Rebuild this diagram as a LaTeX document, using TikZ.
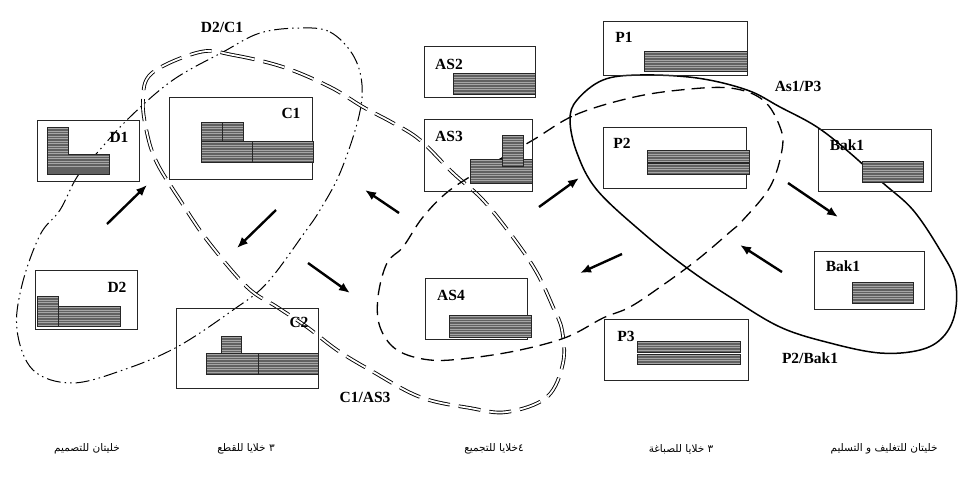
\documentclass[tikz,border=0pt]{standalone}
\usepackage{fontspec}
\setmainfont{Liberation Serif}
\newfontfamily\arabicfont[Script=Arabic]{DejaVu Sans}
\TeXXeTstate=1
\usetikzlibrary{arrows.meta}
\tikzset{
  box/.style={draw=black!85, line width=0.9pt, inner sep=0pt, outer sep=0pt},
  hatch/.style={draw=black!85, line width=0.7pt, fill=black!62,
    path picture={\foreach \i in {1.5,4,...,40}
      \draw[black!35, line width=0.5pt]
        ([yshift=-\i pt]path picture bounding box.north west) --
        ([yshift=-\i pt]path picture bounding box.north east);},
    inner sep=0pt, outer sep=0pt},
  lbl/.style={font=\fontsize{15.5}{16}\selectfont\bfseries, inner sep=0pt},
  arlbl/.style={font=\arabicfont\fontsize{10.5}{12}\selectfont, inner sep=0pt},
  flow/.style={line width=2.4pt, -{Latex[length=11pt,width=9pt]}},
  dashdotdot/.style={line width=1pt, dash pattern=on 14pt off 4pt on 1.5pt off 4pt on 1.5pt off 4pt},
  dbldash/.style={double=white, double distance=1.8pt, line width=0.9pt, dash pattern=on 22pt off 9pt},
  sgldash/.style={line width=1.3pt, dash pattern=on 13pt off 7pt},
  solidloop/.style={line width=1.5pt}
}
\newcommand\rectnode[6]{\node[#6, anchor=north west, minimum width=#4pt-#2pt, minimum height=#5pt-#3pt] (#1) at (#2,#3) {};}
\begin{document}
\begin{tikzpicture}[x=1pt,y=-1pt]
\useasboundingbox (0,0) rectangle (958,485);
% ---- cell group outlines
\draw[dashdotdot] plot[smooth cycle, tension=0.6] coordinates {
 (300,28) (330,32) (353,55) (362,85) (358,120) (340,173) (320,210) (305,232)
 (267,283) (233,310) (177,347) (123,370) (72,383) (33,370) (17,330) (22,285)
 (40,235) (60,210) (77,177) (97,153) (130,117) (173,80) (223,52) (260,33)};
\draw[dbldash] plot[smooth cycle, tension=0.6] coordinates {
 (200,52) (233,55) (283,67) (330,87) (363,107) (393,123) (420,140) (453,173)
 (483,200) (515,240) (537,273) (553,307) (562,330) (563,363) (547,397) (507,412)
 (470,408) (420,397) (370,370) (337,350) (307,327) (277,307) (247,287) (207,240)
 (180,200) (157,163) (147,133) (143,100) (152,73)};
\draw[sgldash] plot[smooth cycle, tension=0.6] coordinates {
 (533,140) (575,115) (630,98) (680,90) (730,88) (763,100) (780,127) (782,150)
 (770,187) (743,220) (730,232) (697,260) (663,285) (630,307) (603,318) (567,337)
 (520,350) (470,358) (430,360) (397,350) (380,327) (378,297) (387,263) (403,247)
 (423,217) (450,190) (490,165)};
\draw[solidloop] plot[smooth cycle, tension=0.6] coordinates {
 (640,75) (697,78) (747,90) (780,107) (817,127) (850,153) (883,183) (913,210)
 (940,250) (955,280) (955,313) (943,337) (920,350) (880,353) (830,343) (780,327)
 (730,297) (687,268) (643,233) (597,190) (577,153) (570,120) (577,100) (603,80)};
% ---- cell boxes
\rectnode{d1}{37}{120}{139}{181}{box}
\rectnode{c1}{169}{97}{312}{179}{box}
\rectnode{d2}{35}{270}{137}{329}{box}
\rectnode{c2}{176}{308}{318}{388}{box}
\rectnode{as2}{424}{46}{535}{97}{box}
\rectnode{as3}{424}{119}{532}{191}{box}
\rectnode{as4}{425}{278}{527}{339}{box}
\rectnode{p1}{603}{21}{747}{75}{box}
\rectnode{p2}{603}{127}{746}{188}{box}
\rectnode{p3}{604}{319}{748}{380}{box}
\rectnode{bak1a}{818}{129}{931}{191}{box}
\rectnode{bak1b}{814}{251}{924}{309}{box}
% ---- machines (hatched)
\path[hatch] (47,127) -| (68,154) -| (109,174) -| cycle;
\rectnode{c1a}{201}{122}{222}{141}{hatch}
\rectnode{c1b}{222}{122}{243}{141}{hatch}
\rectnode{c1c}{201}{141}{252}{162}{hatch}
\rectnode{c1d}{252}{141}{313}{162}{hatch}
\rectnode{d2a}{37}{296}{58}{326}{hatch}
\rectnode{d2b}{58}{306}{120}{326}{hatch}
\rectnode{c2a}{221}{336}{241}{353}{hatch}
\rectnode{c2b}{206}{353}{258}{374}{hatch}
\rectnode{c2c}{258}{353}{318}{374}{hatch}
\rectnode{as2a}{453}{73}{535}{94}{hatch}
\rectnode{as3b}{470}{159}{532}{183}{hatch}
\rectnode{as3a}{502}{135}{523}{166}{hatch}
\rectnode{as4a}{449}{315}{531}{337}{hatch}
\rectnode{p1a}{644}{51}{747}{71}{hatch}
\rectnode{p2a}{647}{150}{749}{162}{hatch}
\rectnode{p2b}{647}{163}{749}{174}{hatch}
\rectnode{p3a}{637}{341}{740}{352}{hatch}
\rectnode{p3b}{637}{354}{740}{364}{hatch}
\rectnode{bak1aa}{862}{161}{923}{182}{hatch}
\rectnode{bak1ba}{852}{282}{913}{303}{hatch}
% ---- labels
\node[lbl] (tD1) at (119,137) {D1};
\node[lbl] (tC1) at (291,113) {C1};
\node[lbl] (tD2) at (117,287) {D2};
\node[lbl] (tC2) at (299,322) {C2};
\node[lbl] (tAS2) at (449,64) {AS2};
\node[lbl] (tAS3) at (449,136) {AS3};
\node[lbl] (tAS4) at (451,295) {AS4};
\node[lbl] (tP1) at (624,37) {P1};
\node[lbl] (tP2) at (622,143) {P2};
\node[lbl] (tP3) at (626,336) {P3};
\node[lbl] (tBak1a) at (847,145) {Bak1};
\node[lbl] (tBak1b) at (843,266) {Bak1};
\node[lbl] (gDC) at (222,27) {D2/C1};
\node[lbl] (gAP) at (798,86) {As1/P3};
\node[lbl] (gCA) at (365,397) {C1/AS3};
\node[lbl] (gPB) at (810,358) {P2/Bak1};
% ---- Arabic captions
\node[arlbl] (ar1) at (87,449) {\beginR خليتان للتصميم\endR};
\node[arlbl] (ar2) at (246,449) {\beginR ٣ خلايا للقطع\endR};
\node[arlbl] (ar3) at (494,449) {\beginR ٤خلايا للتجميع\endR};
\node[arlbl] (ar4) at (681,449) {\beginR ٣ خلايا للصباغة\endR};
\node[arlbl] (ar5) at (884,449) {\beginR خليتان للتغليف و التسليم\endR};
% ---- flow arrows
\coordinate (a1s) at (107,224); \coordinate (a1e) at (147,185);
\coordinate (a2s) at (276,210); \coordinate (a2e) at (237,248);
\coordinate (a3s) at (308,263); \coordinate (a3e) at (350,293);
\coordinate (a4s) at (399,213); \coordinate (a4e) at (365,190);
\coordinate (a5s) at (539,207); \coordinate (a5e) at (579,178);
\coordinate (a6s) at (622,254); \coordinate (a6e) at (580,273);
\coordinate (a7s) at (782,272); \coordinate (a7e) at (740,245);
\coordinate (a8s) at (788,183); \coordinate (a8e) at (838,217);
\draw[flow] (a1s) -- (a1e);
\draw[flow] (a2s) -- (a2e);
\draw[flow] (a3s) -- (a3e);
\draw[flow] (a4s) -- (a4e);
\draw[flow] (a5s) -- (a5e);
\draw[flow] (a6s) -- (a6e);
\draw[flow] (a7s) -- (a7e);
\draw[flow] (a8s) -- (a8e);
\end{tikzpicture}
\end{document}
